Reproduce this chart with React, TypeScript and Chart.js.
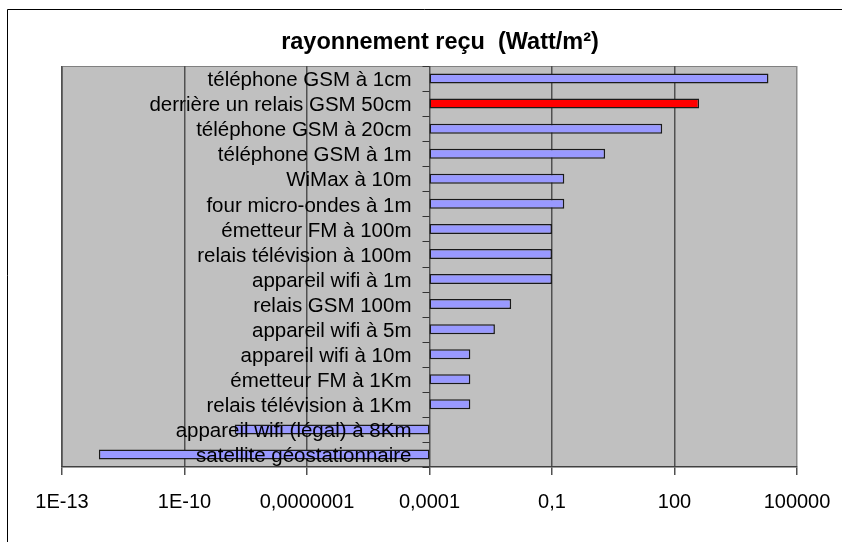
import React, { useEffect, useRef } from "react";
import { Chart, registerables } from "chart.js";

Chart.register(...registerables);

const categories = [
  "téléphone GSM à 1cm",
  "derrière un relais GSM 50cm",
  "téléphone GSM à 20cm",
  "téléphone GSM à 1m",
  "WiMax à 10m",
  "four micro-ondes à 1m",
  "émetteur FM à 100m",
  "relais télévision à 100m",
  "appareil wifi à 1m",
  "relais GSM 100m",
  "appareil wifi à 5m",
  "appareil wifi à 10m",
  "émetteur FM à 1Km",
  "relais télévision à 1Km",
  "appareil wifi (légal) à 8Km",
  "satellite géostationnaire",
];

const values = [
  20000, 400, 50, 2, 0.2, 0.2, 0.1, 0.1, 0.1, 0.01, 0.004, 0.001, 0.001, 0.001,
  1.7e-9, 8e-13,
];

const baseValue = 0.0001;
const tickValues = [1e-13, 1e-10, 1e-7, 1e-4, 0.1, 100, 100000];
const tickLabels = ["1E-13", "1E-10", "0,0000001", "0,0001", "0,1", "100", "100000"];
const highlightIndex = 1;
const chartTitle = "rayonnement reçu  (Watt/m²)";

const FONT = '"Liberation Sans", Arial, sans-serif';

export default function App() {
  const ref = useRef<HTMLCanvasElement>(null);

  useEffect(() => {
    const canvas = ref.current;
    if (!canvas) return;

    const customPlugin = {
      id: "customDecor",
      beforeDraw(chart: any) {
        const { ctx, chartArea } = chart;
        const { left, top, right, bottom } = chartArea;
        ctx.save();
        ctx.fillStyle = "#ffffff";
        ctx.fillRect(0, 0, chart.width, chart.height);
        ctx.strokeStyle = "#000000";
        ctx.lineWidth = 1;
        ctx.beginPath();
        ctx.moveTo(7.5, chart.height);
        ctx.lineTo(7.5, 9.5);
        ctx.lineTo(chart.width, 9.5);
        ctx.stroke();
        ctx.fillStyle = "#C0C0C0";
        ctx.fillRect(left, top, right - left, bottom - top);
        ctx.strokeStyle = "#808080";
        ctx.strokeRect(left + 0.5, top + 0.5, right - left - 1, bottom - top - 1);
        ctx.fillStyle = "#000000";
        ctx.font = "bold 23.5px " + FONT;
        ctx.textAlign = "center";
        ctx.textBaseline = "alphabetic";
        ctx.fillText(chartTitle, 440, 49);
        ctx.restore();
      },
      afterDatasetsDraw(chart: any) {
        const xs = chart.scales.x;
        const ys = chart.scales.y;
        const ctx = chart.ctx;
        const axisX = xs.getPixelForValue(baseValue);
        const n = categories.length;
        const step = (ys.bottom - ys.top) / n;
        ctx.save();
        ctx.strokeStyle = "#333333";
        ctx.lineWidth = 1;
        for (let i = 0; i <= n; i++) {
          const yy = Math.round(ys.top + i * step) + 0.5;
          ctx.beginPath();
          ctx.moveTo(axisX - 7, yy);
          ctx.lineTo(axisX, yy);
          ctx.stroke();
        }
        ctx.fillStyle = "#000000";
        ctx.font = "20.5px " + FONT;
        ctx.textAlign = "right";
        ctx.textBaseline = "middle";
        categories.forEach((c, i) => {
          ctx.fillText(c, axisX - 18, ys.getPixelForValue(i) + 2);
        });
        ctx.restore();
      },
    };

    const chart = new Chart(canvas, {
      type: "bar",
      data: {
        labels: categories,
        datasets: [
          {
            data: values.map((v) => [baseValue, v]) as any,
            backgroundColor: values.map((_, i) => (i === highlightIndex ? "#FF0000" : "#9999FF")),
            borderColor: "#1a1a1a",
            borderWidth: 1.5,
            borderSkipped: false,
            barPercentage: 0.4,
            categoryPercentage: 1,
          },
        ],
      },
      options: {
        indexAxis: "y",
        responsive: false,
        animation: false,
        layout: { padding: { left: 62, top: 66, right: 45, bottom: 25 } },
        plugins: {
          legend: { display: false },
          tooltip: { enabled: false },
          title: { display: false },
        },
        scales: {
          x: {
            type: "logarithmic",
            min: 1e-13,
            max: 1e5,
            afterBuildTicks: (s: any) => {
              s.ticks = tickValues.map((v) => ({ value: v }));
            },
            afterFit: (s: any) => {
              s.height = 50;
              s.paddingLeft = 0;
              s.paddingRight = 0;
            },
            ticks: {
              callback: (_v: any, i: number) => tickLabels[i],
              font: { size: 20, family: FONT },
              color: "#000000",
              padding: 15,
              maxRotation: 0,
              autoSkip: false,
            },
            grid: {
              color: (c: any) => (c.tick && c.tick.value === 1e5 ? "#8a8a8a" : "#505050"),
              lineWidth: 1.5,
              tickLength: 8,
              tickColor: "#505050",
              drawTicks: true,
            },
            border: { display: true, color: "#404040", width: 1.5 },
          },
          y: {
            display: false,
            offset: true,
            grid: { display: false },
          },
        },
      } as any,
      plugins: [customPlugin],
    });

    return () => chart.destroy();
  }, []);

  return (
    <div style={{ position: "absolute", left: 0, top: 0, width: 842, height: 542 }}>
      <canvas ref={ref} width={842} height={542} style={{ display: "block" }} />
    </div>
  );
}
